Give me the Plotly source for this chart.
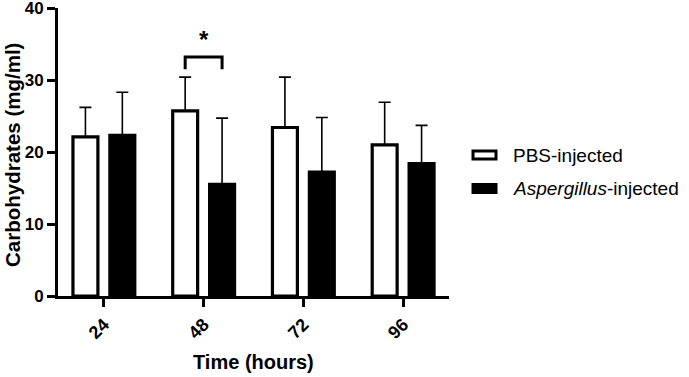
import plotly.graph_objects as go

categories = ["24", "48", "72", "96"]
pbs_mean = [22.1, 25.7, 23.4, 21.0]
pbs_sd = [4.1, 4.7, 7.0, 5.9]
asp_mean = [22.3, 15.5, 17.2, 18.4]
asp_sd = [6.0, 9.2, 7.6, 5.3]
y_ticks = [0, 10, 20, 30, 40]
sig_pair = (1, "*")

BAR_W = 0.25
PBS_OFF = -0.31
ASP_OFF = 0.06

FONT = "Liberation Sans, Arial, sans-serif"

L, R, T, B = 58, 449, 8, 296
PW, PH = R - L, B - T

fig = go.Figure()
fig.add_trace(go.Bar(
    x=categories, y=pbs_mean, width=BAR_W, offset=PBS_OFF,
    marker=dict(color="white", line=dict(color="black", width=3.2)),
    error_y=dict(type="data", array=pbs_sd, arrayminus=[0]*4, symmetric=False,
                 color="black", thickness=1.6, width=6),
    name="PBS-injected", showlegend=False,
))
fig.add_trace(go.Bar(
    x=categories, y=asp_mean, width=BAR_W, offset=ASP_OFF,
    marker=dict(color="black", line=dict(color="black", width=3.2)),
    error_y=dict(type="data", array=asp_sd, arrayminus=[0]*4, symmetric=False,
                 color="black", thickness=1.6, width=6),
    name="Aspergillus-injected", showlegend=False,
))

# significance bracket
i, star = sig_pair
x0 = i + PBS_OFF + BAR_W / 2
x1 = i + ASP_OFF + BAR_W / 2
top = max(pbs_mean[i] + pbs_sd[i], asp_mean[i] + asp_sd[i]) + 2.8
fig.add_shape(type="path",
              path=f"M {x0} {top-1.7} L {x0} {top} L {x1} {top} L {x1} {top-1.7}",
              line=dict(color="black", width=3), xref="x", yref="y")
fig.add_annotation(x=(x0 + x1) / 2, y=top + 0.3, text="<b>*</b>", showarrow=False,
                   yanchor="bottom", font=dict(size=24, color="black", family=FONT))

# manual legend
legend_items = [("PBS-injected", "white"), ("<i>Aspergillus</i>-injected", "black")]
for k, (label, fill) in enumerate(legend_items):
    yc = 155 + k * 33.5
    fig.add_shape(type="rect", xref="paper", yref="paper",
                  x0=(473 - L) / PW, x1=(496 - L) / PW,
                  y0=(B - (yc + 4)) / PH, y1=(B - (yc - 4)) / PH,
                  fillcolor=fill, line=dict(color="black", width=3))
    fig.add_annotation(xref="paper", yref="paper", x=(511 - L) / PW,
                       y=(B - yc) / PH, text=label, showarrow=False,
                       xanchor="left", yanchor="middle",
                       font=dict(size=19, color="black", family=FONT))

# axis titles
fig.add_annotation(xref="paper", yref="paper", x=(253 - L) / PW, y=(B - 362) / PH,
                   text="Time (hours)", showarrow=False, xanchor="center", yanchor="middle",
                   font=dict(size=20, color="black", family=FONT, weight="bold"))
fig.add_annotation(xref="paper", yref="paper", x=(12 - L) / PW, y=(B - 155) / PH,
                   text="Carbohydrates (mg/ml)", showarrow=False, textangle=-90,
                   xanchor="center", yanchor="middle",
                   font=dict(size=20.5, color="black", family=FONT, weight="bold"))

fig.update_layout(
    width=689, height=377,
    margin=dict(l=L, r=689 - R, t=T, b=377 - B),
    plot_bgcolor="white", paper_bgcolor="white",
    barmode="overlay",
    font=dict(family=FONT, color="black"),
)
fig.update_xaxes(
    type="category", range=[-0.46, 3.46], automargin=False,
    showline=True, linecolor="black", linewidth=3,
    ticks="outside", ticklen=8, tickwidth=3, tickcolor="black",
    tickangle=-45, tickfont=dict(size=18, weight="bold"),
    ticklabeloverflow="allow",
    showgrid=False, zeroline=False,
)
fig.update_yaxes(
    range=[0, 40], tickvals=y_ticks, automargin=False,
    showline=True, linecolor="black", linewidth=3,
    ticks="outside", ticklen=8, tickwidth=3, tickcolor="black",
    tickfont=dict(size=17, weight="bold"),
    ticklabeloverflow="allow",
    showgrid=False, zeroline=False,
)

fig.write_html("out.html", config={"displayModeBar": False},
               post_script="document.body.style.margin='0';document.body.style.overflow='hidden';")
